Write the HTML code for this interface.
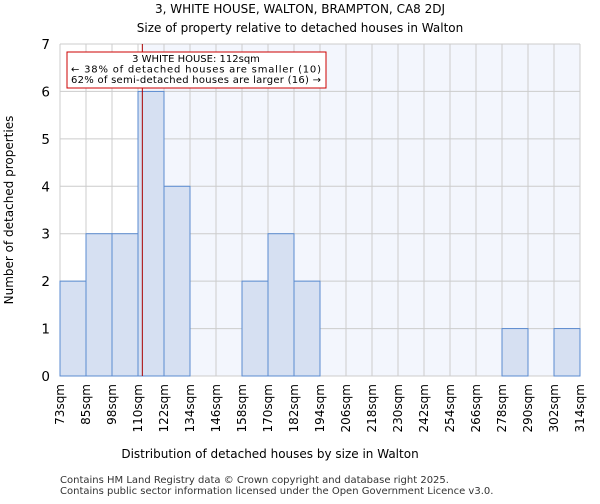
<!DOCTYPE html>
<html><head><meta charset="utf-8"><style>
body{margin:0;background:#fff;font-family:"DejaVu Sans","Liberation Sans",sans-serif}
</style></head><body>
<svg id="chart" width="600" height="500" xmlns="http://www.w3.org/2000/svg" font-family="DejaVu Sans, Liberation Sans, sans-serif">
<text x="300" y="13" text-anchor="middle" font-size="12">3, WHITE HOUSE, WALTON, BRAMPTON, CA8 2DJ</text>
<text x="300" y="32" text-anchor="middle" font-size="12">Size of property relative to detached houses in Walton</text>
<g id="plot"></g>
<text x="270" y="458" text-anchor="middle" font-size="12">Distribution of detached houses by size in Walton</text>
<text transform="translate(13,210) rotate(-90)" text-anchor="middle" font-size="12">Number of detached properties</text>
<text x="60" y="483" font-size="10" fill="#333">Contains HM Land Registry data © Crown copyright and database right 2025.</text>
<text x="60" y="494" font-size="10" fill="#333">Contains public sector information licensed under the Open Government Licence v3.0.</text>
</svg>
<script>
const binEdges=[73,85,98,110,122,134,146,158,170,182,194,206,218,230,242,254,266,278,290,302,314];
const counts=[2,3,3,6,4,0,0,2,3,2,0,0,0,0,0,0,0,1,0,1];
const yTicks=[0,1,2,3,4,5,6,7];
const markerValue=112;
const X0=60,X1=580,Y0=376,Y1=44,YMAX=7;
const NS="http://www.w3.org/2000/svg";
const g=document.getElementById('plot');
const nb=counts.length;
const xi=i=>X0+(X1-X0)*i/nb;
const y=v=>Y0-(Y0-Y1)*v/YMAX;
function binPos(v){for(let i=0;i<nb;i++){if(v>=binEdges[i]&&v<=binEdges[i+1])return i+(v-binEdges[i])/(binEdges[i+1]-binEdges[i]);}return 0;}
const mx=xi(binPos(markerValue));
function mk(t,a){const e=document.createElementNS(NS,t);for(const k in a)e.setAttribute(k,a[k]);g.appendChild(e);return e;}
let e=mk('rect',{x:mx,y:Y1,width:X1-mx,height:Y0-Y1,fill:'#f3f6fd'});


yTicks.forEach(t=>{const l=mk('line',{x1:X0,x2:X1,y1:y(t),y2:y(t),stroke:'#ccc','stroke-width':1});


const tx=mk('text',{x:50,y:y(t)+5,'text-anchor':'end','font-size':13.5});tx.textContent=t;

});
binEdges.forEach((b,i)=>{const l=mk('line',{x1:xi(i),x2:xi(i),y1:Y1,y2:Y0,stroke:'#ccc','stroke-width':1});


const tx=mk('text',{transform:`translate(${xi(i)+4},${Y0+8}) rotate(-90)`,'text-anchor':'end','font-size':12});tx.textContent=b+'sqm';

});
counts.forEach((c,i)=>{if(!c)return;const r=mk('rect',{x:xi(i),y:y(c),width:xi(i+1)-xi(i),height:Y0-y(c),fill:'#d6e0f2',stroke:'#5b8bd0','stroke-width':1});

});
e=mk('line',{x1:mx,x2:mx,y1:Y1,y2:Y0,stroke:'#aa0000','stroke-width':1});


e=mk('rect',{x:67,y:52,width:259,height:36,fill:'#fff',stroke:'#cc0000','stroke-width':1});


["3 WHITE HOUSE: 112sqm","← 38% of detached houses are smaller (10)","62% of semi-detached houses are larger (16) →"].forEach((s,k)=>{
const t=mk('text',{x:196,y:62+k*10.5,'text-anchor':'middle','font-size':10,textLength:k?250:0});t.textContent=s;
if(!k)t.removeAttribute('textLength');

});
</script>
</body></html>
